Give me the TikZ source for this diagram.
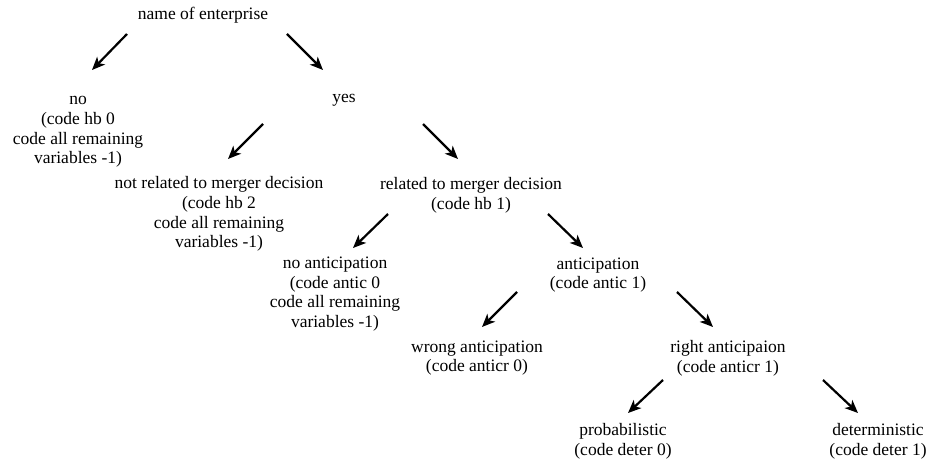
\documentclass[tikz,border=0pt]{standalone}
\usepackage{fontspec}
\setmainfont{Liberation Serif}
\usetikzlibrary{arrows.meta}
\begin{document}
\begin{tikzpicture}[x=1pt,y=-1pt,
  lbl/.style={align=center,inner sep=0pt,font=\fontsize{17.5}{19.7}\selectfont},
  arr/.style={line width=2.2pt,-{Stealth[length=13pt,width=11pt,inset=3.5pt]}}]
\useasboundingbox[fill=white] (0,0) rectangle (930,462);
\node[lbl] (root) at (203,15) {name of enterprise};
\node[lbl] (no) at (78,132) {no\\(code hb 0\\code all remaining\\variables -1)};
\node[lbl] (yes) at (344,100) {yes};
\node[lbl] (nrel) at (219,214) {not related to merger decision\\(code hb 2\\code all remaining\\variables -1)};
\node[lbl] (rel) at (471,195) {related to merger decision\\(code hb 1)};
\node[lbl] (noant) at (335,294) {no anticipation\\(code antic 0\\code all remaining\\variables -1)};
\node[lbl] (ant) at (598,275) {anticipation\\(code antic 1)};
\node[lbl] (wrong) at (477,358) {wrong anticipation\\(code anticr 0)};
\node[lbl] (right) at (728,358) {right anticipaion\\(code anticr 1)};
\node[lbl] (prob) at (623,441) {probabilistic\\(code deter 0)};
\node[lbl] (det) at (878,441) {deterministic\\(code deter 1)};
% arrow end points
\coordinate (a1s) at (127,34);  \coordinate (a1e) at (92,70);
\coordinate (a2s) at (287,34);  \coordinate (a2e) at (323,70);
\coordinate (a3s) at (263,124); \coordinate (a3e) at (228,159);
\coordinate (a4s) at (423,124); \coordinate (a4e) at (458,159);
\coordinate (a5s) at (388,214); \coordinate (a5e) at (353,248);
\coordinate (a6s) at (548,214); \coordinate (a6e) at (583,248);
\coordinate (a7s) at (517,292); \coordinate (a7e) at (482,327);
\coordinate (a8s) at (677,292); \coordinate (a8e) at (713,327);
\coordinate (a9s) at (663,380); \coordinate (a9e) at (628,413);
\coordinate (a10s) at (823,380); \coordinate (a10e) at (858,413);
\foreach \i in {1,...,10} {\draw[arr] (a\i s) -- (a\i e);}
\end{tikzpicture}
\end{document}
